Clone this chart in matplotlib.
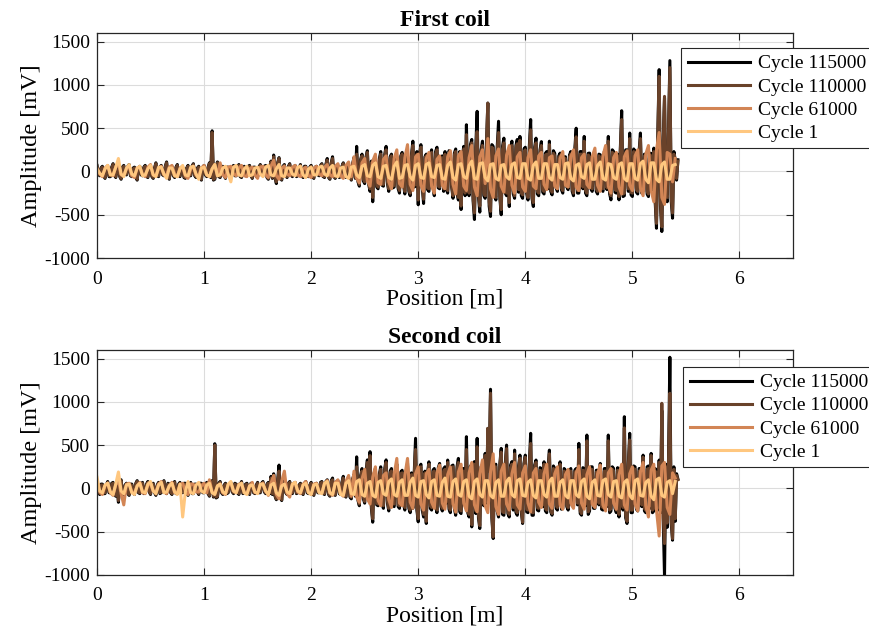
import numpy as np
import matplotlib
matplotlib.use("Agg")
import matplotlib.pyplot as plt

plt.rcParams['font.family'] = ['Liberation Serif', 'DejaVu Serif']
plt.rcParams['axes.unicode_minus'] = False

titles = ["First coil", "Second coil"]
labels = ["Cycle 115000", "Cycle 110000", "Cycle 61000", "Cycle 1"]
xticks = [0, 1, 2, 3, 4, 5, 6]
yticks = [-1000, -500, 0, 500, 1000, 1500]

# sample spacing [m]: fine for cycles 115000/110000, coarser for 61000/1
step_fine = 0.0125
step_coarse = 0.025

# ---------------- First coil ----------------
c115_first = [
    70,-30, -50,40, 60,-50, -80,30, 40,-60, -60,50, 90,-40, -70,30, 50,-60, -90,50, 70,-30, -40,60, 80,-50, -60,40, 50,-70, -100,40, 60,-40, -50,50, 70,-60, -70,40,
    50,-60, -80,40, 100,-50, -60,50, 70,-40, -50,60, 110,-60, -90,40, 60,-50, -70,50, 80,-40, -60,50, 50,-70, -80,40, 70,-50, -50,60, 90,-50, -70,40, 60,-60, -100,50,
    70,-40, -60,50, 100,-70, 470,-100, -90,60, 110,-60, -70,40, 60,-50, -80,50, 50,-60, -60,40, 70,-50, -50,60, 80,-60, -70,40, 60,-50, -50,60, 70,-40, -80,50, 50,-60,
    -60,50, 80,-40, -50,60, 70,-70, -90,50, 120,-80, 190,-70, -140,100, 160,-70, -100,60, 80,-50, -70,60, 90,-40, -60,50, 70,-60, -50,40, 80,-50, -70,60, 60,-50, -60,50,
    70,-60, -80,50, 60,-40, -50,70, 90,-60, -70,80, 150,-70, -90,100, 170,-60, -80,50, 70,-70, -60,60, 100,-50, -70,70, 80,-60, -100,90, 160,-80, 290,-120, -170,140, 200,-110,
    -140,170, 240,-150, -230,120, -350,140, 170,-180, -200,150, 230,-160, -170,200, 290,-140, -230,170, 200,-190, -180,140, 170,-200, -250,180, 220,-150, -260,170, 180,-230, -280,200, 350,-180, -170,230,
    -385,200, 310,-180, -370,170, 200,-210, -230,190, 250,-170, -280,230, 280,-190, -200,170, 180,-230, 230,-200, -250,240, 200,-180, -310,210, 260,-250, -330,230, -440,170, 290,-280, 540,-230, -280,310,
    370,-340, -555,280, 695,-290, -470,250, 350,-280, -310,340, 790,-400, -520,310, 290,-230, -330,280, 580,-310, -500,290, 385,-250, -280,230, -405,270, 350,-260, -310,300, 370,-240, 405,-280, -310,260,
    280,-250, -330,290, 600,-310, -405,280, 385,-260, -280,250, 345,-240, -260,210, 230,-200, 350,-230, -270,240, 210,-190, -230,180, 212,-210, -250,170, 170,-180, -210,190, 230,-230, -280,260, 500,-250,
    -250,230, 230,-200, 405,-250, -280,210, 212,-200, -230,180, 170,-230, -260,200, 193,-190, -230,230, 200,-210, 405,-260, -328,250, 230,-240, -250,200, -328,270, 702,-290, -280,250, 250,-230, 444,-270,
    -289,260, 230,-240, -260,230, 444,-250, -230,200, 193,-260, -290,210, 210,-230, 270,-340, -656,450, 1177,-400, -694,340, 850,-290, -350,500, 1281,-340, -540,230, 135,-100, 135,
]
c110_first = [
    60,-20, -40,30, 50,-40, -70,20, 30,-50, -50,40, 80,-30, -60,20, 40,-50, -80,40, 60,-20, -30,50, 70,-40, -50,30, 40,-60, -90,30, 50,-30, -40,40, 60,-50, -60,30,
    40,-50, -70,30, 90,-40, -50,40, 60,-30, -40,50, 100,-50, -80,30, 50,-40, -60,40, 70,-30, -50,40, 40,-60, -70,30, 60,-40, -40,50, 80,-40, -60,30, 50,-50, -90,40,
    60,-30, -50,40, 90,-60, 450,-90, -80,50, 100,-50, -60,30, 50,-40, -70,40, 40,-50, -50,30, 60,-40, -40,50, 70,-50, -60,30, 50,-40, -40,50, 60,-30, -70,40, 40,-50,
    -50,40, 70,-30, -40,50, 60,-60, -80,40, 110,-70, 170,-60, -120,90, 150,-60, -90,50, 70,-40, -60,50, 80,-30, -50,40, 60,-50, -40,30, 70,-40, -60,50, 50,-40, -50,40,
    60,-50, -70,40, 50,-30, -40,60, 80,-50, -60,70, 130,-60, -80,90, 150,-50, -70,40, 60,-60, -50,50, 90,-40, -60,60, 70,-50, -90,80, 140,-70, 200,-100, -150,120, 180,-90,
    -120,150, 220,-130, -200,100, -300,120, 150,-160, -180,130, 200,-140, -150,180, 250,-120, -200,150, 180,-170, -160,120, 150,-180, -220,160, 200,-130, -230,150, 160,-200, -250,180, 300,-160, -150,200,
    -330,180, 280,-160, -320,150, 180,-190, -200,170, 220,-150, -250,200, 250,-170, -180,150, 160,-200, 200,-180, -220,210, 180,-160, -280,190, 230,-220, -300,200, -400,150, 260,-250, 425,-200, -250,280,
    330,-300, -480,250, 460,-260, -400,220, 300,-250, -280,300, 790,-350, -460,280, 260,-200, -300,250, 450,-280, -440,260, 330,-220, -250,200, -360,240, 300,-230, -280,270, 320,-210, 360,-250, -270,230,
    250,-220, -300,260, 480,-280, -360,250, 330,-230, -250,220, 300,-210, -230,190, 200,-180, 310,-200, -240,210, 180,-170, -200,160, 180,-190, -220,150, 150,-160, -180,170, 200,-200, -250,230, 400,-220,
    -220,200, 200,-180, 350,-220, -250,190, 170,-180, -200,160, 150,-200, -230,180, 160,-170, -200,200, 180,-190, 350,-230, -280,220, 200,-210, -220,180, -290,240, 600,-260, -250,220, 220,-200, 380,-240,
    -250,230, 200,-210, -230,200, 380,-220, -200,180, 150,-230, -260,190, 180,-200, 230,-300, -600,400, 1100,-350, -640,300, 868,-250, -300,450, 1200,-300, -480,200, 100,-80, 120,
]
c61_first = [
    40,-30, -60,40, 70,-30, -50,50, 90,-40, -40,30, 60,-50, -70,40, 50,-30, -60,50, 80,-40, -50,30, 60,-40, -40,50, 70,-30, -60,40, 50,-50, -80,30, 60,-40, -50,40,
    70,-40, -60,30, 80,-50, 100,-40, -70,50, 60,-30, -50,40, 70,-50, -60,30, 50,-40, -80,50, 60,-40, -70,60, 130,-50, -90,40, 60,-30, -50,50, 70,-40, -60,30, 50,-50,
    -70,40, 60,-30, -50,50, 80,-40, -60,60, 90,-50, -80,70, 110,-60, 170,-80, -130,100, 150,-110, -170,120, 200,-130, -150,140, 180,-120, -200,150, 250,-140, -180,160, 310,-150, -220,170,
    200,-160, -230,150, 220,-170, -250,140, 180,-160, -200,170, 240,-150, -260,180, 230,-170, -220,160, 300,-180, -280,170, 250,-140, 380,-200, -300,180, 260,-170, -240,190, 300,-160, -250,170, 220,-180,
    -230,160, 250,-170, -200,180, 220,-150, -210,160, 180,-170, -200,150, 230,-160, -180,170, 250,-180, -220,160, 200,-150, -190,170, 270,-160, -230,180, 300,-170, -250,160, 220,-180, -260,170, 240,-160,
    -220,180, 250,-190, -280,200, 300,-220, -350,250, 450,-300, -380,220, 200,-120, 150,
]
c1_first = [
    30,-20, -50,30, 70,-40, -40,50, 150,-30, -60,40, 80,-30, -50,40, 60,-50, -40,30, 70,-40, -60,50, 50,-30, -80,40, 40,-50, -60,30, 70,-40, -50,50, 60,-30, -90,40,
    50,-40, -60,30, 80,-50, -40,40, 60,-30, -120,50, 70,-40, -50,30, 60,-50, -40,40, 50,-30, -60,50, 70,-40, -50,30, 80,-50, -60,40, 40,-30, -50,50, 60,-40, -70,30,
    50,-40, -40,50, 60,-30, -50,40, 70,-50, -60,40, 50,-60, -80,50, 60,-40, -70,60, 80,-50, -60,70, 100,-60, -80,60, 70,-70, -90,60, 110,-80, -70,70, 80,-60, -100,70,
    90,-70, -80,80, 100,-60, -70,70, 80,-80, -90,70, 110,-70, -100,80, 90,-60, -80,70, 120,-80, -90,90, 100,-70, -110,80, 90,-80, -100,70, 80,-60, -90,80, 100,-70, -80,90,
    90,-80, -100,70, 110,-80, -80,90, 90,-70, -100,80, 80,-70, -90,90, 100,-80, -110,70, 90,-60, -80,80, 100,-90, -90,70, 110,-80, -100,90, 80,-70, -90,80, 100,-80, -110,90,
    90,-80, -100,90, 120,-90, -130,100, 100,-90, -120,80, 110,-90, -90,70, 80,
]

# ---------------- Second coil ----------------
c115_second = [
    60,-40, -70,50, 50,-60, -60,40, 80,-50, -50,60, 70,-40, -90,50, -160,70, 100,-50, -70,40, 60,-60, -80,50, 50,-40, -70,60, 90,-50, -60,40, 70,-60, -50,50, 80,-40,
    -70,50, 60,-50, -80,40, 70,-60, -50,50, 90,-40, -60,60, 50,-50, -70,40, 80,-60, -60,50, 70,-40, -50,60, 60,-50, -80,40, 70,-60, -60,50, 50,-40, -70,60, 60,-50,
    -50,40, 70,-60, -90,50, 90,-100, 517,-110, -100,60, 80,-50, -70,40, 60,-60, -50,50, 70,-40, -60,60, 50,-50, -70,40, 80,-60, -50,50, 60,-40, -70,60, 50,-50, -60,40,
    70,-50, -50,60, 80,-40, -60,50, 70,-60, 140,-70, 170,-90, -130,100, 270,-80, -140,70, 90,-50, -70,60, 80,-40, -60,50, 70,-60, -50,40, 60,-50, -70,60, 80,-50, -60,40,
    70,-60, -80,50, 60,-50, -50,70, 80,-60, -70,80, 100,-70, -90,90, 120,-70, -80,80, 90,-60, -70,70, 140,-80, -100,90, 130,-100, -120,110, 160,-90, 365,-140, -200,150, 230,-120,
    -170,200, 330,-140, 425,-230, -390,170, 230,-190, -200,170, 250,-180, -230,230, 330,-170, -260,200, 230,-190, -210,170, 280,-210, -230,190, 210,-180, -250,200, 290,-230, -280,180, -230,170, 579,-250,
    -386,230, 280,-250, -330,200, -405,180, 308,-230, -250,210, 230,-200, -280,240, 289,-210, -260,230, 250,-170, 328,-240, -280,260, 270,-230, -310,250, 347,-270, -290,230, 230,-200, 598,-280, -330,260,
    -444,280, 310,-290, 579,-340, -463,250, 230,-200, 405,-170, 694,230, 1146,-340, -579,270, 280,-260, -330,290, 463,-300, -310,280, 501,-290, -330,270, 310,-250, 443,-280, -310,260, 385,-270, -405,290,
    385,-270, -280,290, 637,-310, -310,270, 328,-250, -260,240, 230,-210, 308,-260, -280,250, 443,-270, -309,260, 230,-230, -250,210, 308,-240, -230,230, 210,-210, -250,190, 230,-200, -210,210, 230,-190,
    521,-290, -309,240, 230,-200, 617,-300, -260,250, 250,-230, -230,210, 210,-190, 289,-240, -250,230, 230,-210, 617,-280, -260,250, 230,-230, -280,240, -330,230, 230,-250, 829,-340, -405,290, 637,-280,
    -280,260, 250,-240, -260,230, 230,-210, 385,-260, -280,250, 260,-230, 405,-280, -260,230, 210,-250, 328,-280, 900,-340, -1010,280, -450,340, 1516,-400, -598,250, -380,170, 110,
]
c110_second = [
    50,-30, -60,40, 40,-50, -50,30, 70,-40, -40,50, 60,-30, -80,40, -140,60, 90,-40, -60,30, 50,-50, -70,40, 40,-30, -60,50, 80,-40, -50,30, 60,-50, -40,40, 70,-30,
    -60,40, 50,-40, -70,30, 60,-50, -40,40, 80,-30, -50,50, 40,-40, -60,30, 70,-50, -50,40, 60,-30, -40,50, 50,-40, -70,30, 60,-50, -50,40, 40,-30, -60,50, 50,-40,
    -40,30, 60,-50, -80,40, 80,-90, 500,-100, -90,50, 70,-40, -60,30, 50,-50, -40,40, 60,-30, -50,50, 40,-40, -60,30, 70,-50, -40,40, 50,-30, -60,50, 40,-40, -50,30,
    60,-40, -40,50, 70,-30, -50,40, 60,-50, 120,-60, 150,-80, -120,90, 200,-70, -130,60, 80,-40, -60,50, 70,-30, -50,40, 60,-50, -40,30, 50,-40, -60,50, 70,-40, -50,30,
    60,-50, -70,40, 50,-40, -40,60, 70,-50, -60,70, 90,-60, -80,80, 100,-60, -70,70, 80,-50, -60,60, 120,-70, -90,80, 110,-90, -100,100, 140,-80, 250,-120, -180,130, 200,-100,
    -150,180, 300,-120, 380,-200, -350,150, 200,-170, -180,150, 220,-160, -200,200, 300,-150, -230,180, 200,-170, -180,150, 250,-190, -200,170, 180,-160, -220,180, 260,-200, -250,160, -200,150, 450,-220,
    -350,200, 250,-220, -300,180, -380,160, 280,-200, -220,190, 200,-180, -250,210, 260,-190, -230,200, 220,-150, 300,-210, -250,230, 250,-200, -280,220, 300,-240, -260,200, 200,-180, 450,-250, -300,230,
    -420,250, 280,-260, 480,-300, -430,220, 200,-180, 380,-150, 694,200, 1100,-300, -560,240, 250,-230, -300,260, 420,-270, -280,250, 460,-260, -300,240, 280,-220, 400,-250, -280,230, 350,-240, -390,260,
    360,-240, -250,260, 520,-280, -280,240, 300,-220, -230,210, 200,-190, 280,-230, -250,220, 400,-240, -290,230, 200,-200, -220,190, 280,-210, -200,200, 180,-190, -220,170, 200,-180, -180,190, 200,-170,
    450,-260, -290,210, 200,-180, 550,-270, -230,220, 220,-200, -200,190, 180,-170, 260,-210, -220,200, 200,-190, 550,-250, -230,220, 200,-200, -250,210, -300,200, 200,-220, 700,-300, -380,260, 560,-250,
    -250,230, 220,-210, -230,200, 200,-190, 360,-230, -250,220, 230,-200, 380,-250, -230,200, 180,-220, 300,-250, 984,-300, -637,250, -400,300, 1100,-350, -580,220, -350,150, 100,
]
c61_second = [
    50,-40, -70,30, 60,-50, -80,40, 100,-60, -190,50, 60,-40, -50,30, 70,-50, -60,40, 50,-30, -40,50, 80,-40, -60,30, 70,-50, -50,40, 60,-30, -70,50, 50,-40, -40,30,
    60,-50, 100,-40, -60,30, 50,-50, -70,40, 60,-30, -50,50, 40,-40, -60,30, 70,-50, -50,40, 60,-30, -80,60, 150,-70, -120,80, 200,-60, -100,50, 70,-40, -60,50, 80,-40,
    -70,50, 60,-40, -50,60, 90,-50, -80,70, 100,-60, -90,80, 150,-90, 200,-100, -160,110, 220,-120, -180,130, 250,-140, -200,150, 180,-130, -220,160, 347,-170, -200,150, 347,-160, -230,170,
    250,-180, -250,170, 220,-160, -230,180, 270,-170, -240,160, 250,-180, -270,190, 280,-170, -260,180, 300,-190, -270,170, 330,-200, -280,190, 400,-210, -300,200, 280,-180, -250,170, 300,-190, -240,180,
    260,-170, -270,180, 230,-160, -220,170, 280,-180, -230,170, 250,-190, -240,160, 220,-170, -230,180, 260,-170, -240,160, 250,-180, -220,170, 270,-190, -260,180, 230,-170, -240,160, 280,-190, -250,170,
    250,-180, -260,190, 300,-200, -330,210, 280,-250, -550,260, 300,-220, -300,180, 120,
]
c1_second = [
    130,-30, -50,40, 60,-40, -70,50, 190,-30, -60,40, 50,-50, -70,30, 60,-40, -50,50, 80,-30, -60,40, 70,-50, -40,30, 60,-40, -70,50, -330,-40, 80,-50, -60,40, 70,-30,
    -50,40, 60,-50, -70,30, 50,-40, -60,50, 80,-30, -50,40, 60,-50, -70,30, 40,-40, -60,50, 50,-30, -70,40, 60,-50, -80,30, 50,-40, -60,50, 70,-30, -50,40, 60,-50,
    -70,40, 50,-50, -60,60, 80,-50, -70,60, 60,-70, -80,60, 90,-60, -70,80, 100,-70, -90,60, 80,-80, -100,70, 90,-60, -80,80, 110,-70, -90,70, 100,-80, -80,70, 120,-80,
    -100,80, 90,-70, -110,80, 100,-80, -90,70, 120,-90, -100,80, 110,-70, -90,80, 100,-90, -120,80, 110,-70, -100,90, 90,-80, -110,70, 100,-90, -90,80, 120,-70, -100,90, 110,-80,
    -90,70, 100,-80, -110,90, 90,-70, -100,80, 120,-90, -90,70, 100,-80, -110,90, 90,-70, -100,80, 110,-90, -120,70, 100,-80, -90,90, 110,-70, -100,80, 90,-90, -110,70, 100,-80,
    -120,90, 110,-80, -90,70, 100,-90, -130,100, 120,-80, -100,70, 90,-60, 80,
]

panels = [
    (c115_first, c110_first, c61_first, c1_first),
    (c115_second, c110_second, c61_second, c1_second),
]
steps = [step_fine, step_fine, step_coarse, step_coarse]

cmap = plt.get_cmap('copper')
colors = [cmap(0.0), cmap(1 / 3), cmap(2 / 3), cmap(1.0)]

fig = plt.figure(figsize=(8.7, 6.41), dpi=100)
axes_rects = [[0.1115, 0.5975, 0.800, 0.351], [0.1115, 0.1030, 0.800, 0.351]]
legend_anchor = [(0.783, 0.925), (0.785, 0.4275)]

for p, series in enumerate(panels):
    ax = fig.add_axes(axes_rects[p])
    lines = []
    for s, vals in enumerate(series):
        x = steps[s] * np.arange(len(vals))
        ln, = ax.plot(x, vals, color=colors[s], lw=2.2, label=labels[s],
                      solid_joinstyle='round')
        lines.append(ln)
    ax.set_xlim(0, 6.5)
    ax.set_ylim(-1000, 1600)
    ax.set_xticks(xticks)
    ax.set_yticks(yticks)
    ax.grid(True, color='#dcdcdc', lw=0.8)
    ax.set_axisbelow(True)
    ax.tick_params(direction='in', top=True, right=True, labelsize=14,
                   length=5, width=0.8, colors='#262626')
    ax.tick_params(axis='x', pad=9)
    ax.tick_params(axis='y', pad=5)
    for t in ax.get_xticklabels() + ax.get_yticklabels():
        t.set_color('black')
    for sp in ax.spines.values():
        sp.set_color('#262626')
        sp.set_linewidth(0.9)
    ax.set_xlabel('Position [m]', fontsize=17, labelpad=1)
    ax.set_ylabel('Amplitude [mV]', fontsize=17.5, labelpad=2)
    ax.set_title(titles[p], fontsize=17, fontweight='bold', pad=5)
    leg = ax.legend(handles=lines, loc='upper left', bbox_to_anchor=legend_anchor[p],
                    bbox_transform=fig.transFigure, fontsize=14, frameon=True,
                    fancybox=False, framealpha=1, edgecolor='#262626',
                    handlelength=3.2, borderaxespad=0, borderpad=0.35,
                    labelspacing=0.28, handletextpad=0.4)
    leg.get_frame().set_linewidth(0.8)

fig.savefig('out.png', dpi=100)
